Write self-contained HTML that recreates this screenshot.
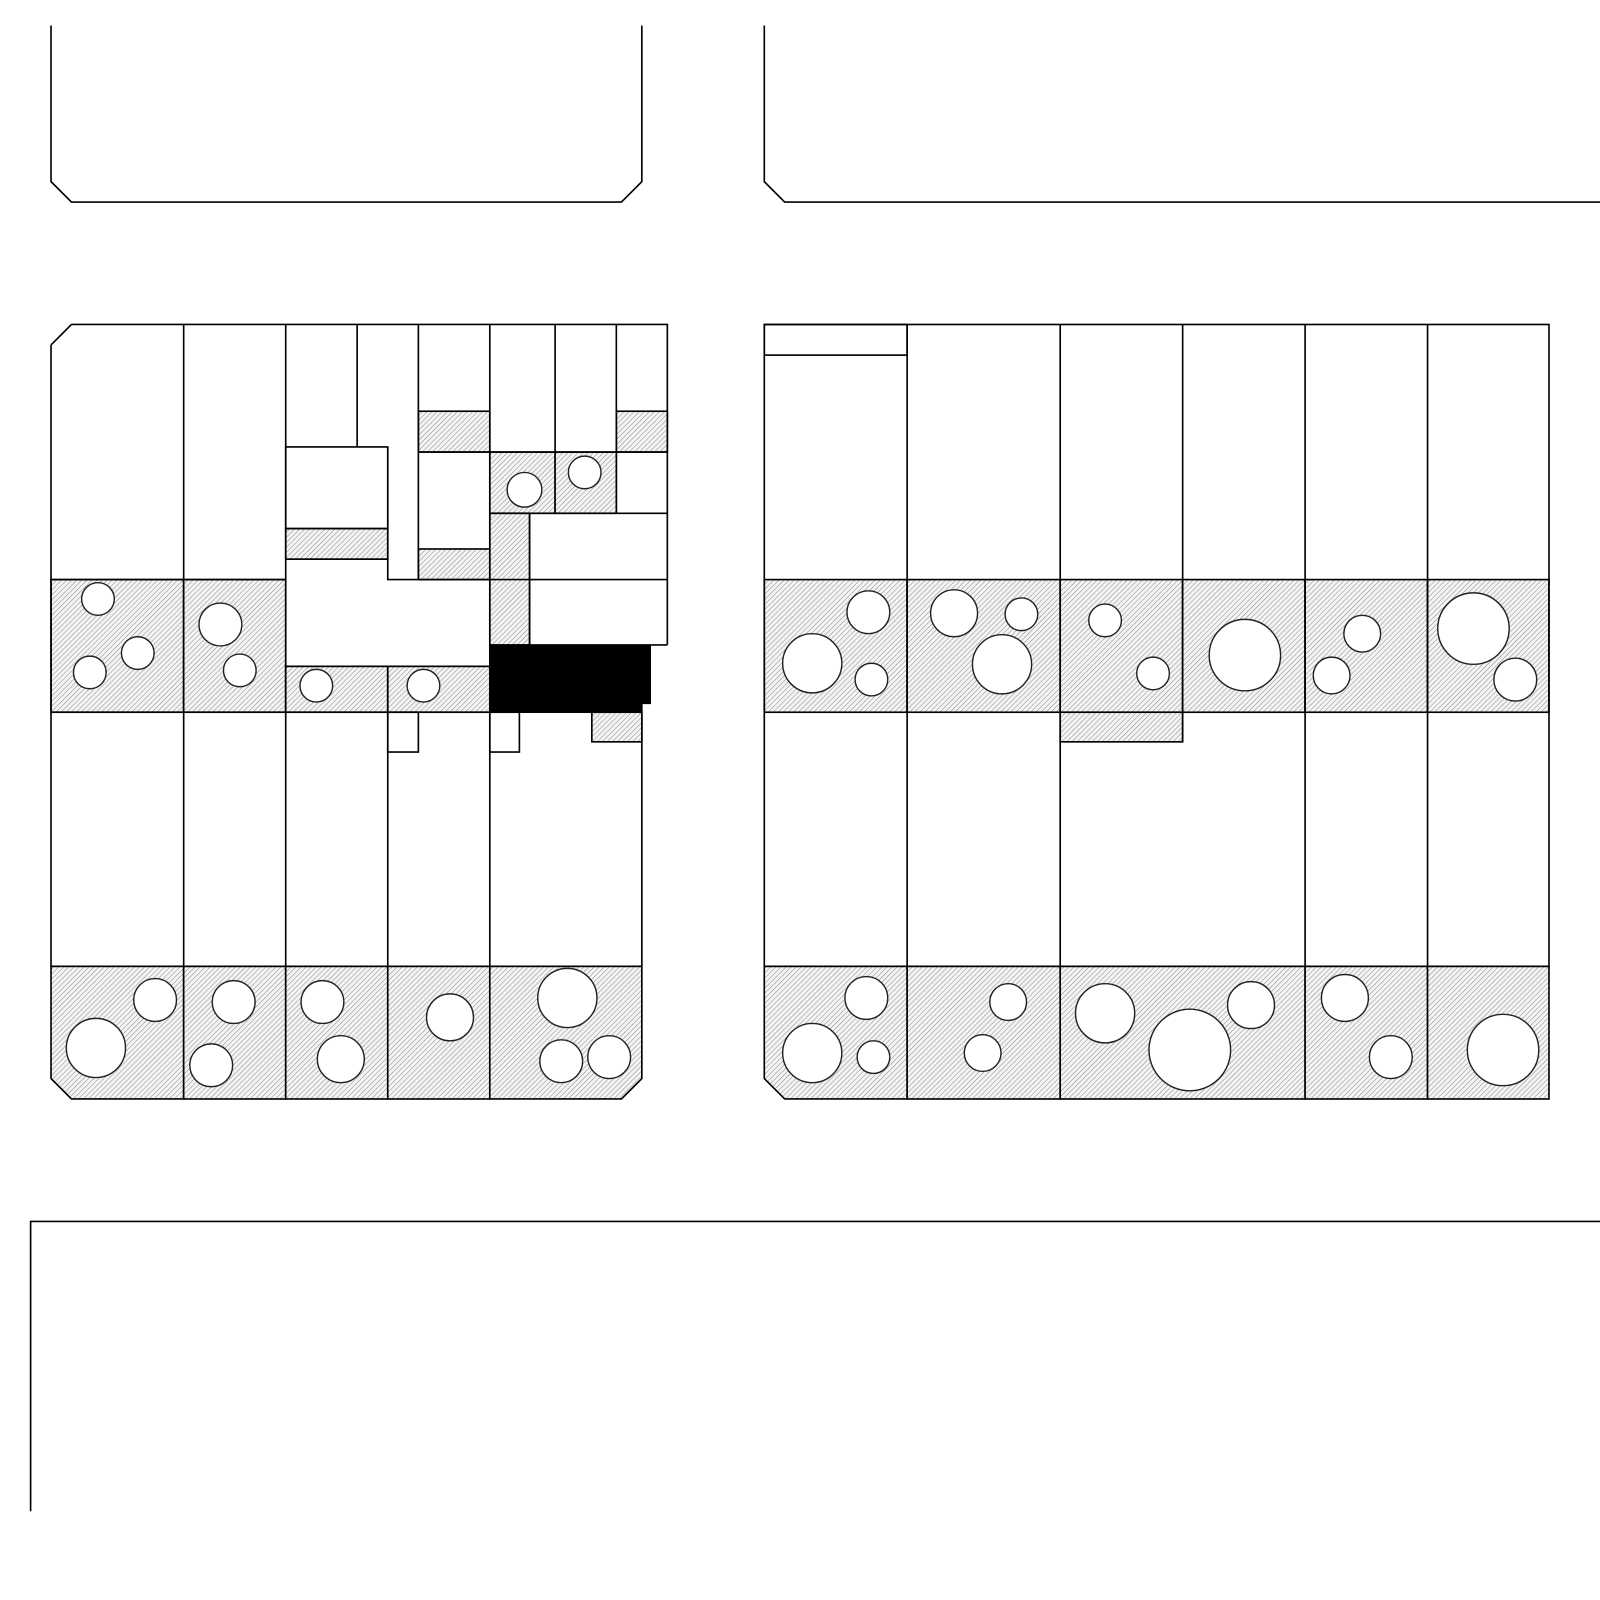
<!DOCTYPE html>
<html><head><style>html,body{margin:0;padding:0;background:#fff}svg{display:block}</style></head>
<body>
<svg width="1600" height="1600" viewBox="0 0 1568 1568" xmlns="http://www.w3.org/2000/svg">
<defs>
<pattern id="h" width="3.5" height="3.5" patternUnits="userSpaceOnUse" patternTransform="rotate(45)">
<rect width="3.5" height="3.5" fill="#f4f4f4"/>
<line x1="0" y1="0" x2="0" y2="3.5" stroke="#8a8a8a" stroke-width="1"/>
</pattern>
</defs>
<g fill="none" stroke="#000" stroke-width="1.6">
<!-- top panels -->
<path d="M50 25 V178 L70 198 H609 L629 178 V25"/>
<path d="M749 25 V178 L769 198 H1568"/>
<path d="M30 1481 V1197 H1568"/>
</g>

<!-- LEFT BLOCK hatched fills -->
<g fill="url(#h)" stroke="#000" stroke-width="1.6">
<rect x="50" y="568" width="130" height="130"/>
<rect x="180" y="568" width="100" height="130"/>
<rect x="280" y="653" width="100" height="45"/>
<rect x="380" y="653" width="100" height="45"/>
<rect x="280" y="518" width="100" height="30"/>
<rect x="410" y="403" width="70" height="40"/>
<rect x="410" y="538" width="70" height="30"/>
<rect x="604" y="403" width="50" height="40"/>
<rect x="480" y="443" width="64" height="60"/>
<rect x="544" y="443" width="60" height="60"/>
<rect x="480" y="503" width="39" height="129"/>
<rect x="580" y="698" width="49" height="29"/>
<path d="M50 947 H180 V1077 H70 L50 1057 Z"/>
<rect x="180" y="947" width="100" height="130"/>
<rect x="280" y="947" width="100" height="130"/>
<rect x="380" y="947" width="100" height="130"/>
<path d="M480 947 H629 V1057 L609 1077 H480 Z"/>
</g>
<g fill="none" stroke="#000" stroke-width="1.6">
<path d="M70 318 H654 V632 M50 338 L70 318 M50 338 V947 M629 690 V947"/>
<line x1="50" y1="568" x2="280" y2="568"/>
<line x1="180" y1="318" x2="180" y2="947"/>
<line x1="280" y1="318" x2="280" y2="947"/>
<line x1="350" y1="318" x2="350" y2="438"/>
<rect x="280" y="438" width="100" height="80"/>
<path d="M280 548 H380 M380 438 V568 H480"/>
<line x1="410" y1="318" x2="410" y2="568"/>
<line x1="480" y1="318" x2="480" y2="443"/>
<line x1="544" y1="318" x2="544" y2="443"/>
<line x1="604" y1="318" x2="604" y2="503"/>
<line x1="410" y1="443" x2="654" y2="443"/>
<line x1="480" y1="443" x2="480" y2="653"/>
<path d="M480 503 H654 M480 568 H654 M519 503 V632 H654"/>
<path d="M280 653 H480"/>
<line x1="50" y1="698" x2="629" y2="698"/>
<line x1="380" y1="653" x2="380" y2="947"/>
<line x1="480" y1="698" x2="480" y2="947"/>
<rect x="380" y="698" width="30" height="39"/>
<rect x="480" y="698" width="29" height="39"/>
<line x1="50" y1="947" x2="629" y2="947"/>
</g>
<path d="M480 632 H638 V690 H629 V698 H480 Z" fill="#000"/>

<!-- RIGHT BLOCK -->
<g fill="url(#h)" stroke="#000" stroke-width="1.6">
<rect x="749" y="568" width="140" height="130"/>
<rect x="889" y="568" width="150" height="130"/>
<rect x="1039" y="568" width="120" height="130"/>
<rect x="1159" y="568" width="120" height="130"/>
<rect x="1279" y="568" width="120" height="130"/>
<rect x="1399" y="568" width="119" height="130"/>
<rect x="1039" y="698" width="120" height="29"/>
<path d="M749 947 H889 V1077 H769 L749 1057 Z"/>
<rect x="889" y="947" width="150" height="130"/>
<rect x="1039" y="947" width="240" height="130"/>
<rect x="1279" y="947" width="120" height="130"/>
<rect x="1399" y="947" width="119" height="130"/>
</g>
<g fill="none" stroke="#000" stroke-width="1.6">
<rect x="749" y="318" width="769" height="629"/>
<rect x="749" y="318" width="140" height="30"/>
<line x1="889" y1="318" x2="889" y2="947"/>
<line x1="1039" y1="318" x2="1039" y2="947"/>
<line x1="1159" y1="318" x2="1159" y2="727"/>
<line x1="1279" y1="318" x2="1279" y2="947"/>
<line x1="1399" y1="318" x2="1399" y2="947"/>
</g>

<!-- circles -->
<g fill="#fff" stroke="#222" stroke-width="1.4">
<circle cx="514" cy="480" r="17"/><circle cx="573" cy="463" r="16"/>
<circle cx="96" cy="587" r="16"/><circle cx="135" cy="640" r="16"/><circle cx="88" cy="659" r="16"/>
<circle cx="216" cy="612" r="21"/><circle cx="235" cy="657" r="16"/>
<circle cx="310" cy="672" r="16"/><circle cx="415" cy="672" r="16"/>
<circle cx="152" cy="980" r="21"/><circle cx="94" cy="1027" r="29"/>
<circle cx="229" cy="982" r="21"/><circle cx="207" cy="1044" r="21"/>
<circle cx="316" cy="982" r="21"/><circle cx="334" cy="1038" r="23"/>
<circle cx="441" cy="997" r="23"/>
<circle cx="556" cy="978" r="29"/><circle cx="550" cy="1040" r="21"/><circle cx="597" cy="1036" r="21"/>

<circle cx="851" cy="600" r="21"/><circle cx="796" cy="650" r="29"/><circle cx="854" cy="666" r="16"/>
<circle cx="935" cy="601" r="23"/><circle cx="1001" cy="602" r="16"/><circle cx="982" cy="651" r="29"/>
<circle cx="1083" cy="608" r="16"/><circle cx="1130" cy="660" r="16"/>
<circle cx="1220" cy="642" r="35"/>
<circle cx="1335" cy="621" r="18"/><circle cx="1305" cy="662" r="18"/>
<circle cx="1444" cy="616" r="35"/><circle cx="1485" cy="666" r="21"/>
<circle cx="849" cy="978" r="21"/><circle cx="796" cy="1032" r="29"/><circle cx="856" cy="1036" r="16"/>
<circle cx="988" cy="982" r="18"/><circle cx="963" cy="1032" r="18"/>
<circle cx="1083" cy="993" r="29"/><circle cx="1166" cy="1029" r="40"/><circle cx="1226" cy="985" r="23"/>
<circle cx="1318" cy="978" r="23"/><circle cx="1363" cy="1036" r="21"/>
<circle cx="1473" cy="1029" r="35"/>
</g>
</svg>
</body></html>
